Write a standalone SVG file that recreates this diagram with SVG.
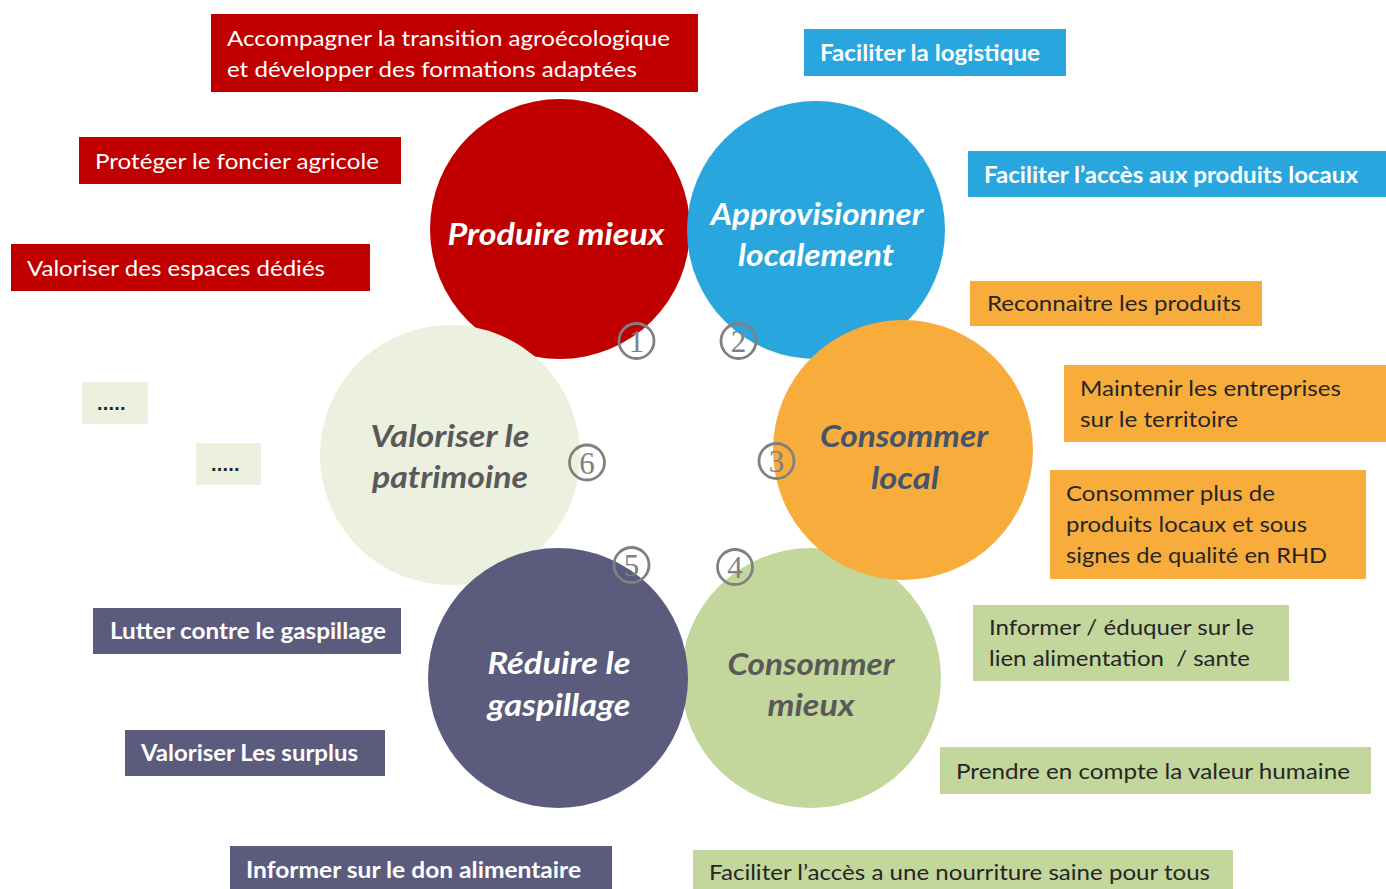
<svg xmlns="http://www.w3.org/2000/svg" width="1386" height="889" viewBox="0 0 1386 889">
<style>
.t{font-family:Lato,"Liberation Sans",sans-serif;font-size:22px}
.b{font-weight:bold}
.w{fill:#ffffff}
.d{fill:#262626}
.c{font-family:Lato,"Liberation Sans",sans-serif;font-size:31px;font-weight:bold;font-style:italic;text-anchor:middle}
.red{fill:#C00000}
.blue{fill:#2AA6DE}
.orange{fill:#F8AC3C}
.green{fill:#C3D69B}
.slate{fill:#5B5B7D}
.pale{fill:#EBF1DE}
.num circle{fill:none;stroke:#808080;stroke-width:2.8}
.num text{font-family:"Liberation Serif",serif;font-size:31px;fill:#808080;text-anchor:middle}
.dots{font-family:"Liberation Sans",sans-serif;font-size:20px;font-weight:bold;fill:#262626;letter-spacing:0.5px}
</style>
<rect width="1386" height="889" fill="#ffffff"/>

<g id="circles">
  <g id="c-produire"><circle class="red" cx="560" cy="229" r="130"/></g>
  <g id="c-approvisionner"><circle class="blue" cx="816" cy="230" r="129"/></g>
  <g id="c-consommer-mieux"><circle class="green" cx="811" cy="678" r="130"/></g>
  <g id="c-consommer-local"><circle class="orange" cx="903" cy="450" r="130"/></g>
  <g id="c-valoriser"><circle class="pale" cx="450" cy="455" r="130"/></g>
  <g id="c-reduire"><circle class="slate" cx="558" cy="678" r="130"/></g>
</g>

<g id="circle-labels">
  <text class="c w" x="556" y="245" textLength="217" lengthAdjust="spacingAndGlyphs">Produire mieux</text>
  <text class="c w" x="817" y="225" textLength="213" lengthAdjust="spacingAndGlyphs">Approvisionner</text>
  <text class="c w" x="816" y="266" textLength="156" lengthAdjust="spacingAndGlyphs">localement</text>
  <text class="c" fill="#44546A" x="904" y="447" textLength="168" lengthAdjust="spacingAndGlyphs">Consommer</text>
  <text class="c" fill="#44546A" x="905" y="489" textLength="68" lengthAdjust="spacingAndGlyphs">local</text>
  <text class="c" fill="#595959" x="811" y="675" textLength="167" lengthAdjust="spacingAndGlyphs">Consommer</text>
  <text class="c" fill="#595959" x="811" y="716" textLength="87" lengthAdjust="spacingAndGlyphs">mieux</text>
  <text class="c w" x="559" y="674" textLength="143" lengthAdjust="spacingAndGlyphs">Réduire le</text>
  <text class="c w" x="559" y="716" textLength="143" lengthAdjust="spacingAndGlyphs">gaspillage</text>
  <text class="c" fill="#595959" x="450" y="447" textLength="159" lengthAdjust="spacingAndGlyphs">Valoriser le</text>
  <text class="c" fill="#595959" x="450" y="488" textLength="156" lengthAdjust="spacingAndGlyphs">patrimoine</text>
</g>

<g id="connectors" class="num">
  <g id="n1"><circle cx="636.5" cy="341" r="17.5"/><text x="636.5" y="352">1</text></g>
  <g id="n2"><circle cx="738.5" cy="341" r="17.5"/><text x="738.5" y="352">2</text></g>
  <g id="n3"><circle cx="776.5" cy="461" r="17.5"/><text x="776.5" y="472">3</text></g>
  <g id="n4"><circle cx="735" cy="567" r="17.5"/><text x="735" y="578">4</text></g>
  <g id="n5"><circle cx="631.5" cy="565" r="17.5"/><text x="631.5" y="576">5</text></g>
  <g id="n6"><circle cx="587" cy="462.5" r="17.5"/><text x="587" y="473.5">6</text></g>
</g>

<g id="box-accompagner">
  <rect class="red" x="211" y="14" width="487" height="78"/>
  <text class="t w" x="227" y="46" textLength="443" lengthAdjust="spacingAndGlyphs">Accompagner la transition agroécologique</text>
  <text class="t w" x="227" y="77" textLength="410" lengthAdjust="spacingAndGlyphs">et développer des formations adaptées</text>
</g>
<g id="box-proteger">
  <rect class="red" x="79" y="137" width="322" height="47"/>
  <text class="t w" x="95" y="169" textLength="284" lengthAdjust="spacingAndGlyphs">Protéger le foncier agricole</text>
</g>
<g id="box-espaces">
  <rect class="red" x="11" y="244" width="359" height="47"/>
  <text class="t w" x="27" y="276" textLength="298" lengthAdjust="spacingAndGlyphs">Valoriser des espaces dédiés</text>
</g>

<g id="box-logistique">
  <rect class="blue" x="804" y="29" width="262" height="47"/>
  <text class="t b w" x="820" y="61" textLength="220" lengthAdjust="spacingAndGlyphs">Faciliter la logistique</text>
</g>
<g id="box-acces-produits">
  <rect class="blue" x="968" y="151" width="418" height="46"/>
  <text class="t b w" x="984" y="183" textLength="374" lengthAdjust="spacingAndGlyphs">Faciliter l’accès aux produits locaux</text>
</g>

<g id="box-reconnaitre">
  <rect class="orange" x="970" y="281" width="292" height="45"/>
  <text class="t d" x="987" y="311" textLength="254" lengthAdjust="spacingAndGlyphs">Reconnaitre les produits</text>
</g>
<g id="box-maintenir">
  <rect class="orange" x="1064" y="365" width="322" height="77"/>
  <text class="t d" x="1080" y="396" textLength="261" lengthAdjust="spacingAndGlyphs">Maintenir les entreprises</text>
  <text class="t d" x="1080" y="427" textLength="158" lengthAdjust="spacingAndGlyphs">sur le territoire</text>
</g>
<g id="box-consommer-plus">
  <rect class="orange" x="1050" y="470" width="316" height="109"/>
  <text class="t d" x="1066" y="501" textLength="209" lengthAdjust="spacingAndGlyphs">Consommer plus de</text>
  <text class="t d" x="1066" y="532" textLength="241" lengthAdjust="spacingAndGlyphs">produits locaux et sous</text>
  <text class="t d" x="1066" y="563" textLength="261" lengthAdjust="spacingAndGlyphs">signes de qualité en RHD</text>
</g>

<g id="box-informer-eduquer">
  <rect class="green" x="973" y="605" width="316" height="76"/>
  <text class="t d" x="989" y="635" textLength="265" lengthAdjust="spacingAndGlyphs">Informer / éduquer sur le</text>
  <text class="t d" x="989" y="666" textLength="261" lengthAdjust="spacingAndGlyphs" xml:space="preserve">lien alimentation  / sante</text>
</g>
<g id="box-valeur-humaine">
  <rect class="green" x="940" y="747" width="431" height="47"/>
  <text class="t d" x="956" y="779" textLength="394" lengthAdjust="spacingAndGlyphs">Prendre en compte la valeur humaine</text>
</g>
<g id="box-nourriture">
  <rect class="green" x="693" y="850" width="540" height="45"/>
  <text class="t d" x="709" y="880" textLength="501" lengthAdjust="spacingAndGlyphs">Faciliter l’accès a une nourriture saine pour tous</text>
</g>

<g id="box-lutter">
  <rect class="slate" x="93" y="608" width="308" height="46"/>
  <text class="t b w" x="110" y="639" textLength="276" lengthAdjust="spacingAndGlyphs">Lutter contre le gaspillage</text>
</g>
<g id="box-surplus">
  <rect class="slate" x="125" y="730" width="260" height="46"/>
  <text class="t b w" x="141" y="761" textLength="217" lengthAdjust="spacingAndGlyphs">Valoriser Les surplus</text>
</g>
<g id="box-don">
  <rect class="slate" x="230" y="846" width="382" height="50"/>
  <text class="t b w" x="246" y="878" textLength="335" lengthAdjust="spacingAndGlyphs">Informer sur le don alimentaire</text>
</g>

<g id="box-dots1">
  <rect class="pale" x="82" y="382" width="66" height="42"/>
  <text class="dots" x="97" y="410" textLength="29" lengthAdjust="spacing">.....</text>
</g>
<g id="box-dots2">
  <rect class="pale" x="196" y="443" width="65" height="42"/>
  <text class="dots" x="211" y="471" textLength="29" lengthAdjust="spacing">.....</text>
</g>
</svg>
